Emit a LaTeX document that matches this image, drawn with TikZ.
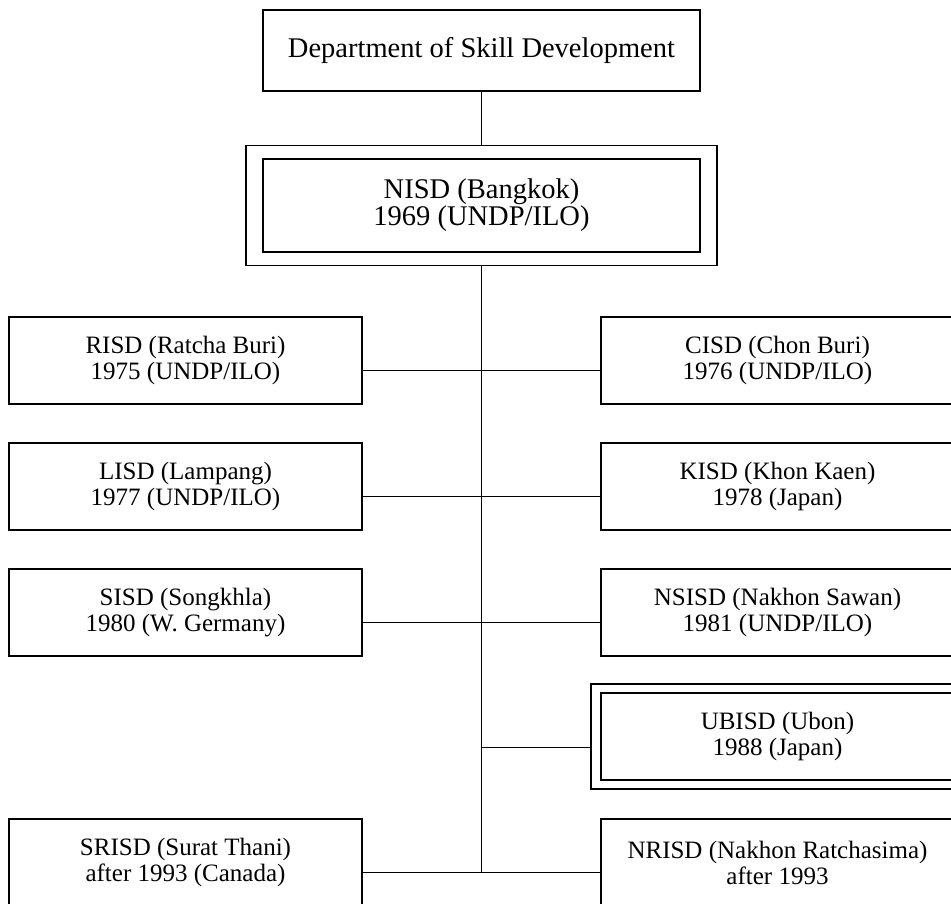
\documentclass[tikz,border=0pt]{standalone}
\usepackage{fontspec}
\setmainfont{Liberation Serif}
\usetikzlibrary{positioning,fit}
\newcommand{\unitfont}{\fontsize{25}{26}\selectfont\lineskiplimit=-10pt\relax}
\newcommand{\headfont}{\fontsize{28.5}{27}\selectfont\lineskiplimit=-10pt\relax}
\tikzset{
  unit/.style={draw, rectangle, align=center, inner sep=0pt, outer sep=0pt,
    minimum width=353pt, minimum height=87pt, font=\unitfont},
  head/.style={unit, minimum width=437pt, font=\headfont},
  frame/.style={draw, rectangle, inner sep=0pt, outer sep=0pt}
}

\begin{document}
\begin{tikzpicture}[x=1pt,y=-1pt,line width=1.8pt]
    \useasboundingbox (0,0) rectangle (951,903);
    \node[head, minimum height=81pt] (dsd) at (481.5,50.5) {Department of Skill Development};
    \node[head, minimum height=93pt, below=68pt of dsd] (nisd) {NISD (Bangkok)\\1969 (UNDP/ILO)};
    \node[frame, fit=(nisd), inner xsep=17pt, inner ysep=13.5pt] (nisdo) {};
    \node[unit] (risd) at (185.5,360.5) {RISD (Ratcha Buri)\\1975 (UNDP/ILO)};
    \node[unit, right=239pt of risd] (cisd) {CISD (Chon Buri)\\1976 (UNDP/ILO)};
    \node[unit, below=39pt of risd] (lisd) {LISD (Lampang)\\1977 (UNDP/ILO)};
    \node[unit, below=39pt of cisd] (kisd) {KISD (Khon Kaen)\\1978 (Japan)};
    \node[unit, below=39pt of lisd] (sisd) {SISD (Songkhla)\\1980 (W. Germany)};
    \node[unit, below=39pt of kisd] (nsisd) {NSISD (Nakhon Sawan)\\1981 (UNDP/ILO)};
    \node[unit, below=37pt of nsisd] (ubisd) {UBISD (Ubon)\\1988 (Japan)};
    \node[frame, fit=(ubisd), inner xsep=10pt, inner ysep=9pt] (ubisdo) {};
    \node[unit, below=39pt of ubisd] (nrisd) {NRISD (Nakhon Ratchasima)\\after 1993};
    \node[unit, left=239pt of nrisd] (srisd) {SRISD (Surat Thani)\\after 1993 (Canada)};
    % spine
    \coordinate (ju) at ([yshift=-11pt]ubisdo.west);
    \coordinate (jb) at ([yshift=-10pt]srisd.east);
    \draw (dsd) -- (nisdo)
    (nisdo) -- (nisdo.south |- jb)
    (ju) -- (nisdo.south |- ju);
    \foreach \l/\r in {risd/cisd,lisd/kisd,sisd/nsisd,srisd/nrisd}
      \draw ([yshift=-10pt]\l.east) -- ([yshift=-10pt]\r.west);
  \end{tikzpicture}
\end{document}
